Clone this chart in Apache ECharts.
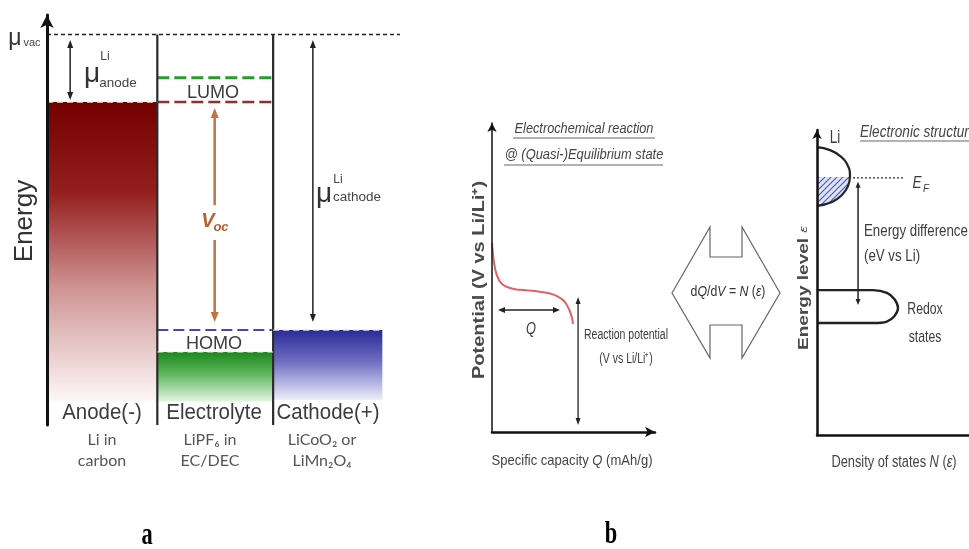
<!DOCTYPE html>
<html><head><meta charset="utf-8">
<script src="https://cdn.jsdelivr.net/npm/echarts@6/dist/echarts.min.js"></script>
<style>html,body{margin:0;padding:0;background:#fff}#c{width:969px;height:549px}</style>
</head><body><div id="c"></div>
<script>
// ================= DATA =================
// ---- Panel a : energy diagram (energy units, vacuum level = 10) ----
const columnNames = ['Anode(-)', 'Electrolyte', 'Cathode(+)'];
const columnSubLabels = [['Li in', 'carbon'], ['LiPF₆ in', 'EC/DEC'], ['LiCoO₂ or', 'LiMn₂O₄']];
const columnEdges = [0, 1.0, 2.05, 3.04];          // anode | electrolyte | cathode
const energyVacuum = 10;
const energyAnode = 8.27;                          // anode Fermi level
const energyLUMO = 8.89;
const energyHOMO = 2.43;                           // = cathode level
const energyElectrolyteBand = 1.87;
const energyFillBottom = 0.6;
const muAnodeArrow = [[0.21, 9.86, 0.21, 8.32, 1, 1]];
const vocArrows = [[1.52, 8.12, 1.52, 5.63, 1, 0], [1.52, 4.74, 1.52, 2.64, 0, 1]];
const muCathodeArrow = [[2.41, 9.86, 2.41, 2.64, 1, 1]];

// ---- Panel b (left): potential vs specific capacity ----
const capacityQ = [0, 0.12, 0.31, 0.61, 1.10, 1.72, 2.64, 3.44, 3.99, 4.42, 4.72, 4.91, 4.97];
const potentialV = [6.12, 5.50, 5.05, 4.79, 4.66, 4.60, 4.56, 4.50, 4.40, 4.24, 3.98, 3.69, 3.50];
const qArrow = [[0.37, 3.95, 4.17, 3.95, 1, 1]];
const reactionArrow = [[5.28, 4.37, 5.28, 0.23, 1, 1]];

// ---- Panel b (right): density of states ----
const liDosN = [0, 0.86, 1.51, 1.97, 2.17, 2.04, 1.64, 0.99, 0];
const liDosE = [9.44, 9.34, 9.15, 8.89, 8.49, 8.16, 7.87, 7.64, 7.51];
const liFilledN = [0, 2.15, 2.04, 1.64, 0.99, 0];
const liFilledE = [8.46, 8.46, 8.16, 7.87, 7.64, 7.51];
const fermiLevelE = 8.43;
const fermiLineN = [2.37, 5.79];
const redoxDosN = [0, 3.68, 4.6, 5.1, 5.33, 5.1, 4.6, 3.68, 0];
const redoxDosE = [4.75, 4.75, 4.66, 4.45, 4.16, 3.90, 3.72, 3.67, 3.67];
const energyDiffArrow = [[2.70, 8.30, 2.70, 4.26, 1, 1]];

// ================= CHART =================
const chart = echarts.init(document.getElementById('c'), null, {renderer: 'canvas'});
const FONT = 'Liberation Sans, Arial, sans-serif';
const TXT = '#3c3c3c';

function zip(a, b) { return a.map((v, i) => [v, b[i]]); }

function seg(grid, pts, color, width, dash, z) {
  return {type: 'line', xAxisIndex: grid, yAxisIndex: grid, data: pts, showSymbol: false, symbol: 'none',
    silent: true, animation: false, z: z || 3, lineStyle: {color, width, type: dash || 'solid'}};
}

function arrowSeries(grid, data, color, width, head) {
  return {
    type: 'custom', xAxisIndex: grid, yAxisIndex: grid, data, silent: true, animation: false, z: 4,
    encode: {x: [0, 2], y: [1, 3]},
    renderItem(params, api) {
      const a = api.coord([api.value(0), api.value(1)]);
      const b = api.coord([api.value(2), api.value(3)]);
      const hs = api.value(4), he = api.value(5);
      const dx = b[0] - a[0], dy = b[1] - a[1], L = Math.hypot(dx, dy);
      const ux = dx / L, uy = dy / L;
      const s = hs ? [a[0] + ux * head[0] * 0.7, a[1] + uy * head[0] * 0.7] : a;
      const e = he ? [b[0] - ux * head[0] * 0.7, b[1] - uy * head[0] * 0.7] : b;
      const children = [{type: 'line', shape: {x1: s[0], y1: s[1], x2: e[0], y2: e[1]},
        style: {stroke: color, lineWidth: width}}];
      function headAt(p, ddx, ddy) {
        const bx = p[0] - ddx * head[0], by = p[1] - ddy * head[0];
        const nx = -ddy, ny = ddx, hw = head[1] / 2;
        return {type: 'polygon', shape: {points: [[p[0], p[1]], [bx + nx * hw, by + ny * hw], [bx - nx * hw, by - ny * hw]]},
          style: {fill: color}};
      }
      if (hs) children.push(headAt(a, -ux, -uy));
      if (he) children.push(headAt(b, ux, uy));
      return {type: 'group', children};
    }
  };
}

const bandFills = [
  [columnEdges[0], columnEdges[1], energyAnode, energyFillBottom],
  [columnEdges[1], columnEdges[2], energyElectrolyteBand, energyFillBottom],
  [columnEdges[2], columnEdges[3], energyHOMO, energyFillBottom + 0.04]
];
const bandGradients = [
  [{offset: 0, color: '#740000'}, {offset: 0.3, color: '#951e1e'}, {offset: 0.62, color: '#cf9393'}, {offset: 1, color: '#fdf8f8'}],
  [{offset: 0, color: '#1c881c'}, {offset: 0.45, color: '#5fb85f'}, {offset: 1, color: '#e6f4e6'}],
  [{offset: 0, color: '#2b2b9a'}, {offset: 0.45, color: '#6e6ec0'}, {offset: 1, color: '#eeeef9'}]
];

// hatch pattern for occupied Li states
const pat = document.createElement('canvas'); pat.width = 6; pat.height = 6;
(function () {
  const g = pat.getContext('2d');
  g.fillStyle = '#dfe4f6'; g.fillRect(0, 0, 6, 6);
  g.strokeStyle = '#4a5cc0'; g.lineWidth = 1.2; g.beginPath();
  g.moveTo(0, 6); g.lineTo(6, 0); g.moveTo(-1, 1); g.lineTo(1, -1); g.moveTo(5, 7); g.lineTo(7, 5); g.stroke();
})();

function polygonSeries(grid, xs, ys, style, z) {
  return {type: 'custom', xAxisIndex: grid, yAxisIndex: grid, data: [[xs[0], ys[0]]], silent: true, animation: false, z: z || 2,
    renderItem(params, api) {
      const pts = xs.map((x, i) => api.coord([x, ys[i]]));
      return {type: 'polygon', shape: {points: pts}, style};
    }};
}

const hiddenAxis = (grid, min, max) => ({gridIndex: grid, type: 'value', min, max, show: false});
function visAxis(grid, min, max, width, arrow) {
  return {gridIndex: grid, type: 'value', min, max, z: 10,
    axisLine: {show: true, onZero: false, lineStyle: {color: '#111', width},
      symbol: arrow ? ['none', 'arrow'] : ['none', 'none'], symbolSize: arrow || [8, 10]},
    axisTick: {show: false}, axisLabel: {show: false}, splitLine: {show: false}};
}

const series = [
  // ---------- panel a ----------
  {type: 'custom', xAxisIndex: 0, yAxisIndex: 0, data: bandFills, silent: true, animation: false, z: 1,
    renderItem(params, api) {
      const p0 = api.coord([api.value(0), api.value(2)]);
      const p1 = api.coord([api.value(1), api.value(3)]);
      return {type: 'rect', shape: {x: p0[0], y: p0[1], width: p1[0] - p0[0], height: p1[1] - p0[1]},
        style: {fill: new echarts.graphic.LinearGradient(0, 0, 0, 1, bandGradients[params.dataIndex])}};
    }},
  seg(0, [[columnEdges[0], energyVacuum], [3.2, energyVacuum]], '#222', 1.5, [4, 3]),
  seg(0, [[columnEdges[1], energyLUMO], [columnEdges[2], energyLUMO]], '#2a9a2a', 3, [12, 5]),
  seg(0, [[columnEdges[1], energyAnode], [columnEdges[2], energyAnode]], '#9c2c2c', 2.5, [12, 5]),
  seg(0, [[columnEdges[0], energyAnode], [columnEdges[1], energyAnode]], '#f4dede', 1.2, [6, 4], 5),
  seg(0, [[columnEdges[1], energyHOMO], [columnEdges[2], energyHOMO]], '#4646a6', 2, [11, 5]),
  seg(0, [[columnEdges[2], energyHOMO], [columnEdges[3], energyHOMO]], '#dcdcf2', 1.2, [6, 4], 5),
  seg(0, [[columnEdges[1], energyElectrolyteBand], [columnEdges[2], energyElectrolyteBand]], '#e4f4e4', 1.2, [6, 4], 5),
  seg(0, [[columnEdges[1], energyVacuum], [columnEdges[1], 0]], '#2a2a2a', 2.2),
  seg(0, [[columnEdges[2], energyVacuum], [columnEdges[2], 0]], '#2a2a2a', 2.2),
  arrowSeries(0, muAnodeArrow, '#222', 1.5, [8, 6]),
  arrowSeries(0, vocArrows, '#c0733f', 2.5, [10, 8]),
  arrowSeries(0, muCathodeArrow, '#222', 1.5, [8, 6]),
  // ---------- panel b left ----------
  {type: 'line', xAxisIndex: 1, yAxisIndex: 1, data: zip(capacityQ, potentialV), smooth: 0.4, showSymbol: false,
    symbol: 'none', silent: true, animation: false, lineStyle: {color: '#e0606c', width: 2}},
  arrowSeries(1, qArrow, '#222', 1.5, [7, 6]),
  arrowSeries(1, reactionArrow, '#222', 1.3, [7, 5]),
  // ---------- panel b right ----------
  polygonSeries(2, liFilledN, liFilledE, {fill: {image: pat, repeat: 'repeat'}}, 1),
  {type: 'line', xAxisIndex: 2, yAxisIndex: 2, data: zip(liDosN, liDosE), smooth: 0.5, showSymbol: false,
    symbol: 'none', silent: true, animation: false, lineStyle: {color: '#222', width: 2.2}},
  seg(2, [[fermiLineN[0], fermiLevelE], [fermiLineN[1], fermiLevelE]], '#333', 1.3, [2, 2]),
  {type: 'line', xAxisIndex: 2, yAxisIndex: 2, data: zip(redoxDosN, redoxDosE), smooth: 0.35, showSymbol: false,
    symbol: 'none', silent: true, animation: false, lineStyle: {color: '#222', width: 2.4}},
  arrowSeries(2, energyDiffArrow, '#222', 1.5, [6, 5])
];

// text helper: o.sx / o.sy stretch the glyphs (the reference image is not uniformly scaled)
function t(x, y, text, size, o) {
  o = o || {};
  return {type: 'text', x, y, z: 100, rotation: o.rot || 0, scaleX: o.sx || 1, scaleY: o.sy || 1,
    style: {text, fontSize: size, fontFamily: o.family || FONT, fill: o.color || TXT,
      fontStyle: o.italic ? 'italic' : 'normal', fontWeight: o.bold ? 'bold' : 'normal',
      align: o.align || 'center', verticalAlign: 'middle', rich: o.rich}};
}
function uline(x1, x2, y) {
  return {type: 'line', z: 100, shape: {x1, y1: y, x2, y2: y}, style: {stroke: '#666', lineWidth: 1}};
}
const rs = (size, extra) => Object.assign({fontSize: size, fill: '#444', fontFamily: FONT}, extra || {});

const graphic = [
  // panel a labels
  t(15, 39, 'μ', 23, {color: '#333'}), t(32, 43, 'vac', 11, {color: '#444'}),
  t(92, 74, 'μ', 28, {color: '#333'}), t(105, 57, 'Li', 12, {color: '#444'}), t(118, 83, 'anode', 13.5, {color: '#444'}),
  t(324, 194, 'μ', 28, {color: '#333'}), t(338, 180, 'Li', 12, {color: '#444'}), t(357, 197, 'cathode', 13.5, {color: '#444'}),
  t(213, 93, 'LUMO', 19, {sx: 0.95}), t(214, 344, 'HOMO', 19, {sx: 0.95}),
  t(208, 221, 'V', 20, {italic: true, bold: true, color: '#b4622f'}), t(221, 227, 'oc', 13, {italic: true, bold: true, color: '#b4622f'}),
  t(102, 413, columnNames[0], 22, {sx: 0.93}), t(214, 413, columnNames[1], 22, {sx: 0.93}), t(328, 413, columnNames[2], 22, {sx: 0.93}),
  t(102, 440, columnSubLabels[0][0], 16, {color: '#555', family: 'Lato, sans-serif'}),
  t(102, 461, columnSubLabels[0][1], 16, {color: '#555', family: 'Lato, sans-serif'}),
  t(210, 440, columnSubLabels[1][0], 16, {color: '#555', family: 'Lato, sans-serif'}),
  t(210, 461, columnSubLabels[1][1], 16, {color: '#555', family: 'Lato, sans-serif'}),
  t(322, 440, columnSubLabels[2][0], 16, {color: '#555', family: 'Lato, sans-serif'}),
  t(322, 461, columnSubLabels[2][1], 16, {color: '#555', family: 'Lato, sans-serif'}),
  t(25, 221, 'Energy', 26, {rot: Math.PI / 2, color: '#333'}),
  t(147, 536, 'a', 32, {bold: true, family: 'Liberation Serif, serif', color: '#000', sx: 0.7}),
  t(611, 535, 'b', 32, {bold: true, family: 'Liberation Serif, serif', color: '#000', sx: 0.7}),
  // panel b left
  t(584, 129, 'Electrochemical reaction', 15, {italic: true, color: '#444', sx: 0.85}), uline(513, 655, 138),
  t(584, 155, '@ (Quasi-)Equilibrium state', 15, {italic: true, color: '#444', sx: 0.86}), uline(504, 663, 165),
  t(480, 280, 'Potential (V vs Li/Li⁺)', 20, {rot: Math.PI / 2, bold: true, color: '#4a4a4a', sy: 0.78}),
  t(572, 461, '{a|Specific capacity }{i|Q}{a| (mAh/g)}', 15, {sx: 0.87, rich: {a: rs(15), i: rs(15, {fontStyle: 'italic'})}}),
  t(531, 330, 'Q', 16, {italic: true, sx: 0.8}),
  t(626, 335, 'Reaction potential', 14, {sx: 0.75}), t(626, 359, '(V vs Li/Li⁺)', 14, {sx: 0.75}),
  // centre symbol
  {type: 'polygon', z: 50, shape: {points: [[672, 293], [710, 227], [710, 257], [742, 257], [742, 227], [780, 293],
    [742, 358], [742, 325], [710, 325], [710, 358]]}, style: {fill: '#fff', stroke: '#666', lineWidth: 1.2}},
  t(728, 292, '{a|d}{i|Q}{a|/d}{i|V}{a| = }{i|N}{a| (}{i|ε}{a|)}', 15, {sx: 0.82, rich: {a: rs(15, {fill: '#333'}), i: rs(15, {fill: '#333', fontStyle: 'italic'})}}),
  // panel b right
  t(835, 138, 'Li', 18, {sx: 0.75}), t(860, 132, 'Electronic structure', 17, {italic: true, align: 'left', color: '#444', sx: 0.8}), uline(860, 969, 141),
  t(917, 183, 'E', 17, {italic: true, sx: 0.8}), t(926, 189, 'F', 10, {italic: true}),
  t(864, 232, 'Energy difference', 16, {align: 'left', sx: 0.83}), t(864, 257, '(eV vs Li)', 16, {align: 'left', sx: 0.83}),
  t(925, 309, 'Redox', 17, {sx: 0.72}), t(925, 337, 'states', 17, {sx: 0.72}),
  t(804, 288, '{a|Energy level }{i|ε}', 19, {rot: Math.PI / 2, sy: 0.75, rich: {a: rs(19, {fontWeight: 'bold', fill: '#4a4a4a'}), i: rs(15, {fontStyle: 'italic', fill: '#4a4a4a'})}}),
  t(894, 463, '{a|Density of states }{i|N}{a| (}{i|ε}{a|)}', 16, {sx: 0.8, rich: {a: rs(16), i: rs(16, {fontStyle: 'italic'})}})
];

chart.setOption({
  animation: false,
  backgroundColor: '#fff',
  grid: [
    {left: 47, top: 15, width: 353, height: 410},
    {left: 492, top: 123, width: 163, height: 309},
    {left: 817, top: 130, width: 152, height: 305}
  ],
  xAxis: [hiddenAxis(0, 0, 3.2), visAxis(1, 0, 10, 2.5, [8, 10]), visAxis(2, 0, 10, 2.5)],
  yAxis: [visAxis(0, 0, 10.5, 3, [10, 13]), visAxis(1, 0, 10, 1.5, [7, 9]), visAxis(2, 0, 10, 2.5, [7, 9])],
  series,
  graphic
});
</script></body></html>
